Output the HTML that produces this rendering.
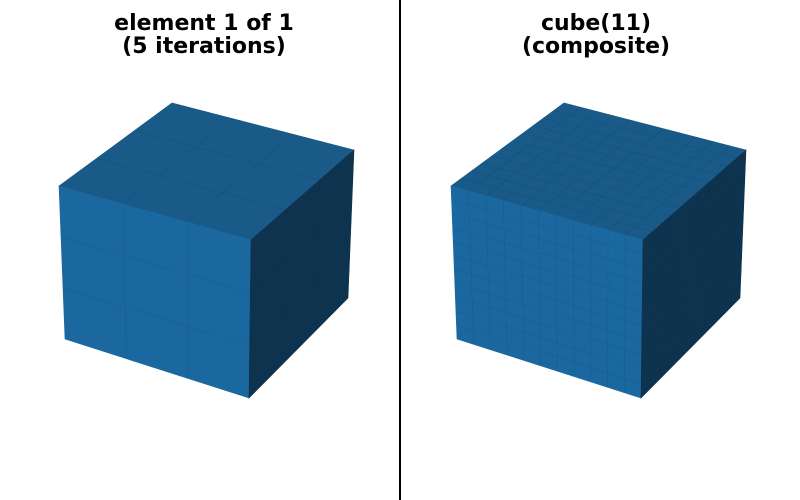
<!DOCTYPE html>
<html><head><meta charset="utf-8"><style>
body{margin:0;background:#fff;}
svg{display:block;}
text{font-family:"DejaVu Sans","Liberation Sans",sans-serif;font-weight:bold;font-size:22px;fill:#000;}
</style></head><body>
<svg id="fig" width="800" height="500" viewBox="0 0 800 500">
<rect width="800" height="500" fill="#fff"/>
<line x1="400" y1="0" x2="400" y2="500" stroke="#000" stroke-width="2"/>
<text x="204" y="30" text-anchor="middle">element 1 of 1</text>
<text x="204" y="53" text-anchor="middle">(5 iterations)</text>
<text x="596" y="30" text-anchor="middle">cube(11)</text>
<text x="596" y="53" text-anchor="middle">(composite)</text>
<g id="cubes"></g>
</svg>
<script>
// subdivision counts per panel
const panelNames = ['element-cube', 'composite-cube'];
const subdivisions = [3, 11];
const offsetsX = [0, 392];
const NS = 'http://www.w3.org/2000/svg';
const g = document.getElementById('cubes');
function P(pts){return pts.map(p=>p[0]+','+p[1]).join(' ');}
function lerp(a,b,t){return [a[0]+(b[0]-a[0])*t, a[1]+(b[1]-a[1])*t];}
function face(q, fill, n, name, grp){
  const poly=document.createElementNS(NS,'polygon');
  poly.setAttribute('points',P(q));
  poly.setAttribute('fill',fill);
  poly.setAttribute('stroke',fill);
  poly.setAttribute('stroke-width','0.6');
  
  
  grp.appendChild(poly);
  for(let i=1;i<n;i++){
    const t=i/n;
    [[lerp(q[0],q[1],t),lerp(q[3],q[2],t)],[lerp(q[0],q[3],t),lerp(q[1],q[2],t)]].forEach(s=>{
      const l=document.createElementNS(NS,'line');
      l.setAttribute('x1',s[0][0]);l.setAttribute('y1',s[0][1]);
      l.setAttribute('x2',s[1][0]);l.setAttribute('y2',s[1][1]);
      l.setAttribute('stroke','rgba(10,40,70,0.12)');
      l.setAttribute('stroke-width','0.8');
      
      
      grp.appendChild(l);
    });
  }
}
subdivisions.forEach((n,k)=>{
  const dx=offsetsX[k];
  const s=(p)=>[p[0]+dx,p[1]];
  const grp=document.createElementNS(NS,'g');
  
  
  g.appendChild(grp);
  const A=s([59,186]),B=s([172,103]),C=s([354,150]),D=s([251,240]);
  const E=s([65,339]),F=s([249,398]),G=s([348,298]);
  face([A,B,C,D],'#195a88',n,'top-face',grp);
  face([A,D,F,E],'#1b68a0',n,'front-face',grp);
  face([D,C,G,F],'#0e334e',n,'right-face',grp);
});
</script>
</body></html>
